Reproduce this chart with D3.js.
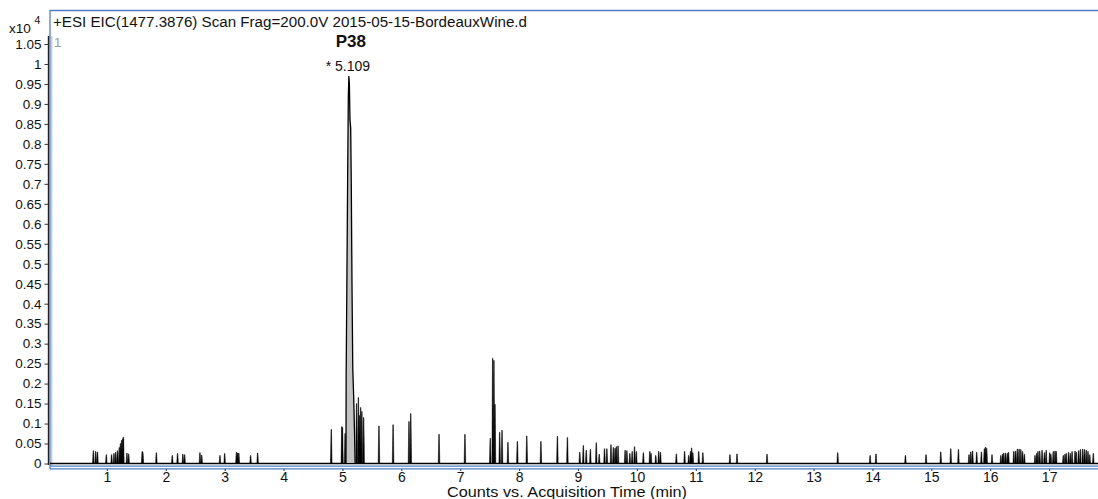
<!DOCTYPE html>
<html><head><meta charset="utf-8">
<script src="https://cdn.jsdelivr.net/npm/d3@7"></script>
<style>
html,body{margin:0;padding:0;background:#fff;}
svg{display:block;font-family:"Liberation Sans",Arial,sans-serif;}
</style></head>
<body><svg id="c" width="1098" height="499"></svg>
<script>
// ---- data (intensity in units of x10^4 counts, time in min) ----
const titleText = "+ESI EIC(1477.3876) Scan Frag=200.0V 2015-05-15-BordeauxWine.d";
const peakLabel = "P38";
const peakRT = "* 5.109";
const xAxisTitle = "Counts vs. Acquisition Time (min)";
const xTickValues = [1,2,3,4,5,6,7,8,9,10,11,12,13,14,15,16,17];
const yTickValues = [0,0.05,0.1,0.15,0.2,0.25,0.3,0.35,0.4,0.45,0.5,0.55,0.6,0.65,0.7,0.75,0.8,0.85,0.9,0.95,1,1.05];
const yTickLabels = ["0","0.05","0.1","0.15","0.2","0.25","0.3","0.35","0.4","0.45","0.5","0.55","0.6","0.65","0.7","0.75","0.8","0.85","0.9","0.95","1","1.05"];

// main peak profile (time, intensity)
const mainPeakTime = [5.060,5.063,5.075,5.090,5.100,5.109,5.118,5.128,5.140,5.150,5.162,5.175,5.190,5.205,5.215];
const mainPeakValue = [0,0.22,0.45,0.75,0.92,0.97,0.95,0.86,0.84,0.70,0.45,0.24,0.17,0.08,0];

// noise / minor spikes
const spikeTime = [0.77,0.81,0.84,0.99,1.08,1.12,1.15,1.18,1.21,1.23,1.25,1.27,1.28,1.34,1.37,1.60,1.61,1.84,2.11,2.20,2.29,2.32,2.58,2.61,2.92,3.00,3.20,3.22,3.24,3.44,3.56,
4.81,4.99,5.00,5.045,5.24,5.27,5.29,5.31,5.33,5.36,5.62,5.86,6.13,6.16,6.64,7.08,7.51,7.552,7.572,7.59,7.67,7.71,7.81,7.97,8.13,8.37,8.65,8.82,
9.03,9.09,9.14,9.21,9.31,9.36,9.45,9.49,9.56,9.60,9.63,9.65,9.68,9.80,9.83,9.88,9.92,9.96,9.99,10.11,10.22,10.24,10.32,10.37,10.40,10.67,10.81,10.88,10.91,10.93,10.95,11.05,11.12,11.58,11.70,12.21,
13.41,13.96,14.06,14.56,14.91,15.16,15.33,15.46,15.64,15.67,15.70,15.77,15.85,15.90,15.92,15.94,16.03,16.18,16.21,16.23,16.26,16.29,16.31,16.40,16.43,16.46,16.49,16.52,16.55,16.58,16.76,16.79,16.81,16.84,16.88,16.92,16.95,17.01,17.03,17.07,17.10,17.12,17.24,17.27,17.29,17.33,17.36,17.39,17.44,17.46,17.50,17.53,17.57,17.60,17.63,17.66,17.69,17.75];
const spikeValue = [0.032,0.030,0.029,0.022,0.022,0.025,0.028,0.032,0.040,0.050,0.058,0.062,0.066,0.026,0.024,0.030,0.028,0.027,0.020,0.025,0.023,0.022,0.027,0.021,0.020,0.025,0.028,0.026,0.026,0.020,0.026,
0.085,0.092,0.090,0.075,0.15,0.165,0.12,0.14,0.13,0.115,0.094,0.097,0.105,0.125,0.073,0.073,0.063,0.263,0.258,0.148,0.078,0.083,0.053,0.055,0.069,0.055,0.068,0.065,
0.028,0.045,0.033,0.035,0.052,0.023,0.037,0.037,0.047,0.040,0.038,0.042,0.044,0.033,0.032,0.025,0.030,0.042,0.030,0.027,0.030,0.025,0.020,0.030,0.028,0.024,0.030,0.020,0.030,0.039,0.027,0.030,0.027,0.022,0.024,0.023,
0.027,0.020,0.024,0.020,0.022,0.029,0.037,0.035,0.022,0.029,0.031,0.028,0.029,0.037,0.041,0.038,0.022,0.020,0.023,0.026,0.026,0.025,0.028,0.030,0.031,0.036,0.036,0.035,0.030,0.023,0.020,0.025,0.030,0.031,0.033,0.027,0.033,0.027,0.023,0.030,0.031,0.030,0.020,0.023,0.025,0.028,0.025,0.030,0.031,0.028,0.032,0.035,0.036,0.035,0.033,0.030,0.022,0.025];

// ---- drawing ----
const svg = d3.select("#c");
const x = d3.scaleLinear().domain([0, 17.83]).range([48, 1098]);
const y = d3.scaleLinear().domain([0, 1.05]).range([463.5, 44]);
const blue = "#4f7fc6";
const FONT = "Liberation Sans, Arial, sans-serif";

// frame
svg.append("line").attr("x1",50).attr("x2",1098).attr("y1",10.5).attr("y2",10.5).attr("stroke",blue).attr("stroke-width",1.3);
svg.append("line").attr("x1",50).attr("x2",50).attr("y1",10).attr("y2",469).attr("stroke",blue).attr("stroke-width",1.3);
svg.append("rect").attr("x",51).attr("y",36).attr("width",1.5).attr("height",430).attr("fill","#c8cfdb");
svg.append("line").attr("x1",50).attr("x2",1098).attr("y1",466.2).attr("y2",466.2).attr("stroke",blue).attr("stroke-width",1.3);
svg.append("line").attr("x1",50).attr("x2",1098).attr("y1",468.8).attr("y2",468.8).attr("stroke",blue).attr("stroke-width",1.3);

// y axis
const yAxis = d3.axisLeft(y).tickValues(yTickValues).tickFormat((d,i)=>yTickLabels[i]).tickSize(4).tickPadding(3);
const gy = svg.append("g").attr("transform","translate(48.5,0)").call(yAxis);
gy.select(".domain").attr("d","M0,36V465").attr("stroke","#222").attr("stroke-width",1.4);
gy.selectAll(".tick line").attr("stroke","#333");
gy.selectAll("text").attr("font-size",13.5).attr("fill","#111").attr("font-family",FONT);

// x axis
const xAxis = d3.axisBottom(x).tickValues(xTickValues).tickFormat(d3.format("d")).tickSize(2).tickPadding(1);
const gx = svg.append("g").attr("transform","translate(0,469)").call(xAxis);
gx.select(".domain").remove();
gx.selectAll(".tick line").attr("stroke","#333");
gx.selectAll("text").attr("font-size",14).attr("fill","#111").attr("font-family",FONT);

// baseline
svg.append("line").attr("x1",x(0)+2).attr("x2",1098).attr("y1",y(0)).attr("y2",y(0)).attr("stroke","#000").attr("stroke-width",1.4);

// spikes
const spikes = spikeTime.map((t,i)=>({t, v: spikeValue[i]}));
svg.append("g").selectAll("path").data(spikes).join("path")
  .attr("d", d => {const xx = x(d.t); return `M${xx-0.8},${y(0)}L${xx-0.25},${y(d.v)}L${xx+0.25},${y(d.v)}L${xx+0.8},${y(0)}Z`;})
  .attr("fill","#000").attr("stroke","#000").attr("stroke-width",0.5);

// main peak
const peakPts = mainPeakTime.map((t,i)=>[t, mainPeakValue[i]]);
const area = d3.area().x(d=>x(d[0])).y0(y(0)-1.5).y1(d=>y(d[1]));
svg.append("path").datum(peakPts).attr("d", area).attr("fill","#c3c3c3").attr("stroke","none");
const line = d3.line().x(d=>x(d[0])).y(d=>y(d[1]));
svg.append("path").datum(peakPts).attr("d", line).attr("fill","none").attr("stroke","#000").attr("stroke-width",1.3);

// texts
svg.append("text").attr("x",53).attr("y",27).attr("font-size",14).attr("fill","#111")
  .attr("textLength",474).attr("lengthAdjust","spacingAndGlyphs").text(titleText);
const sup = svg.append("text").attr("x",9).attr("y",33).attr("font-size",13.5).attr("fill","#111");
sup.append("tspan").text("x10 ");
sup.append("tspan").attr("dy",-9).attr("font-size",10.5).text("4");
svg.append("text").attr("x",54).attr("y",47).attr("font-size",13).attr("fill","#999").text("1");
svg.append("text").attr("x",x(5.109)+2).attr("y",47).attr("text-anchor","middle").attr("font-size",17).attr("font-weight","bold").attr("fill","#111").text(peakLabel);
svg.append("text").attr("x",x(5.109)-1).attr("y",70.5).attr("text-anchor","middle").attr("font-size",14).attr("fill","#111").text(peakRT);
svg.append("text").attr("x",567).attr("y",497).attr("text-anchor","middle").attr("font-size",15).attr("fill","#111")
  .attr("textLength",240).attr("lengthAdjust","spacingAndGlyphs").text(xAxisTitle);
</script></body></html>
